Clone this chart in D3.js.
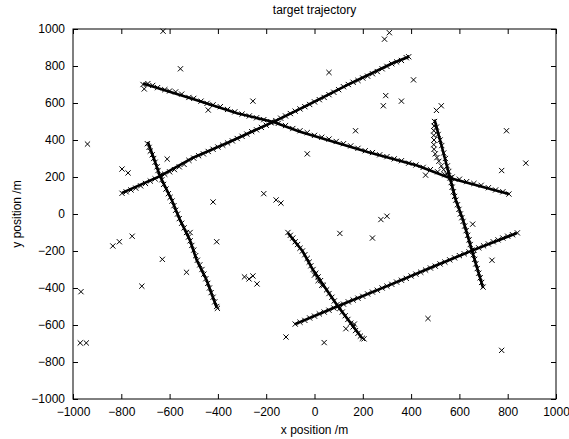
<!DOCTYPE html>
<html>
<head>
<meta charset="utf-8">
<script src="https://cdn.jsdelivr.net/npm/d3@7"></script>
<style>
    body { margin: 0; background: #fff; }
    text { font-family: "Liberation Sans", Arial, sans-serif; fill: #000; }
</style>
</head>
<body>
<div id="chart"></div>
<script>
// Axis ticks
const xTicks = [-1000, -800, -600, -400, -200, 0, 200, 400, 600, 800, 1000];
const yTicks = [-1000, -800, -600, -400, -200, 0, 200, 400, 600, 800, 1000];

// True trajectories (solid lines)
const trackA = [[-710, 705], [-500, 620], [-320, 545], [-170, 497], [-60, 445], [220, 335], [425, 262], [560, 195], [805, 108]];
const trackB = [[-797, 114], [-640, 205], [-503, 305], [-362, 384], [-172, 497], [-60, 568], [147, 705], [325, 816], [390, 850]];
const trackC = [[-690, 390], [-665, 300], [-640, 205], [-591, 76], [-557, -32], [-516, -141], [-488, -249], [-447, -357], [-405, -505]];
const trackD = [[-110, -103], [-50, -200], [-6, -303], [50, -410], [93, -492], [150, -590], [197, -672]];
const trackE = [[-81, -595], [93, -500], [300, -390], [500, -280], [652, -198], [838, -103]];
const trackF = [[497, 510], [530, 350], [561, 195], [585, 76], [615, -32], [652, -198], [698, -400]];

// Measurements along each trajectory (x markers)
const measA = [[-710, 700], [-705, 676], [-690, 705], [-670, 695], [-650, 683], [-620, 672], [-600, 665], [-575, 660],
    [-550, 648], [-520, 630], [-500, 625], [-470, 610], [-445, 598], [-420, 590], [-440, 562], [-390, 580], [-360, 565],
    [-330, 552], [-300, 540], [-270, 530], [-240, 520], [-210, 510], [-180, 498], [-150, 490], [-120, 478], [-90, 462],
    [-60, 450], [-30, 440], [0, 425], [30, 415], [60, 405], [90, 392], [120, 380], [150, 368], [180, 355], [210, 342],
    [240, 332], [270, 320], [300, 310], [330, 298], [360, 288], [390, 275], [420, 265], [450, 252], [480, 240],
    [510, 228], [540, 212], [570, 200], [600, 188], [630, 175], [660, 165], [690, 155], [720, 142], [750, 130],
    [780, 120], [805, 108]];
const measB = [[-797, 112], [-780, 120], [-760, 130], [-740, 140], [-720, 152], [-700, 165], [-680, 178], [-660, 190],
    [-640, 205], [-620, 215], [-600, 228], [-580, 240], [-560, 255], [-540, 268], [-520, 290], [-500, 302], [-480, 315],
    [-460, 325], [-440, 338], [-420, 350], [-400, 362], [-380, 372], [-360, 384], [-340, 395], [-320, 408], [-300, 420],
    [-280, 432], [-260, 445], [-240, 455], [-220, 468], [-200, 480], [-180, 493], [-160, 505], [-140, 518], [-120, 530],
    [-100, 543], [-80, 556], [-60, 568], [-40, 580], [-20, 592], [0, 606], [20, 618], [40, 630], [60, 645], [80, 658],
    [100, 672], [120, 688], [140, 700], [160, 712], [180, 722], [200, 735], [220, 745], [240, 758], [260, 770],
    [280, 785], [300, 798], [320, 812], [340, 822], [360, 830], [380, 845], [390, 850]];
const measC = [[-692, 380], [-685, 360], [-680, 340], [-672, 320], [-666, 300], [-660, 280], [-652, 255], [-648, 235],
    [-640, 210], [-632, 185], [-625, 160], [-615, 135], [-605, 110], [-598, 90], [-590, 70], [-582, 45], [-575, 20],
    [-567, 0], [-560, -25], [-550, -50], [-540, -75], [-530, -100], [-522, -125], [-515, -145], [-508, -170],
    [-500, -195], [-492, -225], [-485, -250], [-475, -275], [-466, -300], [-458, -325], [-450, -350], [-442, -375],
    [-435, -400], [-428, -425], [-420, -450], [-413, -475], [-405, -500], [-402, -510]];
const measD = [[-110, -100], [-100, -115], [-90, -130], [-80, -150], [-70, -165], [-60, -185], [-50, -200], [-40, -220],
    [-30, -240], [-22, -260], [-15, -280], [-6, -300], [5, -320], [0, -330], [15, -340], [15, -360], [25, -360],
    [30, -385], [37, -385], [50, -410], [60, -430], [72, -450], [82, -470], [93, -490], [105, -510], [115, -530],
    [127, -550], [138, -570], [150, -590], [160, -610], [170, -630], [180, -645], [190, -660], [198, -672], [205, -675]];
const measE = [[-80, -595], [-60, -585], [-40, -575], [-20, -562], [0, -552], [20, -540], [40, -530], [60, -520],
    [80, -508], [100, -497], [120, -487], [140, -475], [160, -465], [180, -455], [200, -445], [220, -432], [240, -422],
    [260, -412], [280, -400], [300, -390], [320, -380], [340, -368], [360, -358], [380, -348], [400, -335], [420, -325],
    [440, -315], [460, -303], [480, -292], [500, -282], [520, -270], [540, -260], [560, -248], [580, -237], [600, -225],
    [620, -215], [640, -205], [660, -195], [680, -183], [700, -172], [720, -162], [740, -150], [760, -140], [780, -130],
    [800, -120], [820, -112], [840, -102]];
const measF = [[497, 500], [495, 475], [494, 450], [494, 425], [495, 400], [494, 375], [495, 350], [500, 325], [507, 305],
    [515, 285], [525, 260], [535, 240], [548, 215], [505, 470], [512, 430], [520, 400], [527, 370], [535, 330],
    [542, 300], [550, 260], [556, 230], [561, 195], [566, 170], [570, 145], [575, 120], [580, 95], [585, 75], [592, 50],
    [598, 25], [604, 0], [610, -20], [615, -40], [622, -65], [628, -90], [634, -115], [640, -140], [645, -165],
    [652, -195], [658, -220], [663, -245], [668, -270], [674, -295], [680, -320], [686, -345], [692, -370], [698, -395]];

// Clutter (false alarms)
const clutter = [[-627, 988], [-555, 785], [-255, 610], [-940, 378], [-610, 297], [-797, 243], [-772, 222], [-30, 325],
    [-420, 65], [-210, 110], [-159, 76], [-139, 59], [310, 980], [290, 945], [60, 765], [410, 725], [295, 640],
    [285, 585], [360, 610], [505, 560], [525, 585], [170, 450], [795, 450], [875, 275], [775, 235], [460, 210],
    [275, -30], [300, -12], [-967, -420], [-970, -697], [-945, -697], [-835, -173], [-808, -150], [-755, -120],
    [-630, -245], [-715, -390], [-530, -315], [-405, -150], [-290, -340], [-271, -351], [-255, -335], [-238, -378],
    [-118, -665], [-515, -100], [105, -105], [240, -130], [655, -55], [735, -250], [470, -565], [775, -737],
    [40, -695], [130, -620], [165, -595]];

const tracks = [trackA, trackB, trackC, trackD, trackE, trackF];
const measurements = [measA, measB, measC, measD, measE, measF];

const width = 569, height = 439;
const margin = { top: 29, right: 13, bottom: 40, left: 73 };

const svg = d3.select('#chart')
    .append('svg')
    .attr('width', width)
    .attr('height', height);

svg.append('rect').attr('width', width).attr('height', height).attr('fill', '#fff');

const xScale = d3.scaleLinear()
    .domain([-1000, 1000])
    .range([margin.left, width - margin.right]);
const yScale = d3.scaleLinear()
    .domain([-1000, 1000])
    .range([height - margin.bottom, margin.top]);

const plot = svg.append('g');

// x marker shape
const markerPath = 'M-2.6,-2.6L2.6,2.6M-2.6,2.6L2.6,-2.6';

// Draw trajectories
const line = d3.line().x(d => xScale(d[0])).y(d => yScale(d[1]));
plot.append('g')
    .selectAll('path')
    .data(tracks)
    .enter()
    .append('path')
    .attr('d', line)
    .attr('fill', 'none')
    .attr('stroke', '#000')
    .attr('stroke-width', 2.6);

// Measurements + clutter
const allPoints = measurements.flat().concat(clutter);
plot.append('g')
    .selectAll('path')
    .data(allPoints)
    .enter()
    .append('path')
    .attr('transform', d => `translate(${xScale(d[0])},${yScale(d[1])})`)
    .attr('d', markerPath)
    .attr('fill', 'none')
    .attr('stroke', '#000')
    .attr('stroke-width', 1);

// Axes (MATLAB style: ticks point inward, box on)
const x0 = margin.left, x1 = width - margin.right;
const y0 = height - margin.bottom, y1 = margin.top;

const xAxis = d3.axisBottom(xScale).tickValues(xTicks).tickSize(-5).tickPadding(8).tickFormat(d3.format('d'));
const yAxis = d3.axisLeft(yScale).tickValues(yTicks).tickSize(-5).tickPadding(8).tickFormat(d3.format('d'));

const gx = svg.append('g').attr('transform', `translate(0,${y0})`).call(xAxis);
const gy = svg.append('g').attr('transform', `translate(${x0},0)`).call(yAxis);
const gxTop = svg.append('g').attr('transform', `translate(0,${y1})`)
    .call(d3.axisTop(xScale).tickValues(xTicks).tickSize(-5).tickFormat(''));
const gyRight = svg.append('g').attr('transform', `translate(${x1},0)`)
    .call(d3.axisRight(yScale).tickValues(yTicks).tickSize(-5).tickFormat(''));

[gx, gy, gxTop, gyRight].forEach(g => {
    g.select('.domain').remove();
    g.selectAll('line').attr('stroke', '#000').attr('stroke-width', 1);
    g.selectAll('text').attr('font-size', '12px').attr('font-family', '"Liberation Sans", Arial, sans-serif');
});
gx.selectAll('text').attr('dy', '0.71em');

svg.append('rect')
    .attr('x', x0)
    .attr('y', y1)
    .attr('width', x1 - x0)
    .attr('height', y0 - y1)
    .attr('fill', 'none')
    .attr('stroke', '#000')
    .attr('stroke-width', 1);

// Labels
svg.append('text')
    .attr('x', (x0 + x1) / 2)
    .attr('y', 14)
    .attr('text-anchor', 'middle')
    .attr('font-size', '12px')
    .text('target trajectory');

svg.append('text')
    .attr('x', (x0 + x1) / 2)
    .attr('y', 434)
    .attr('text-anchor', 'middle')
    .attr('font-size', '12px')
    .text('x position /m');

svg.append('text')
    .attr('transform', `translate(21,${(y0 + y1) / 2}) rotate(-90)`)
    .attr('text-anchor', 'middle')
    .attr('font-size', '12px')
    .text('y position /m');
</script>
</body>
</html>
